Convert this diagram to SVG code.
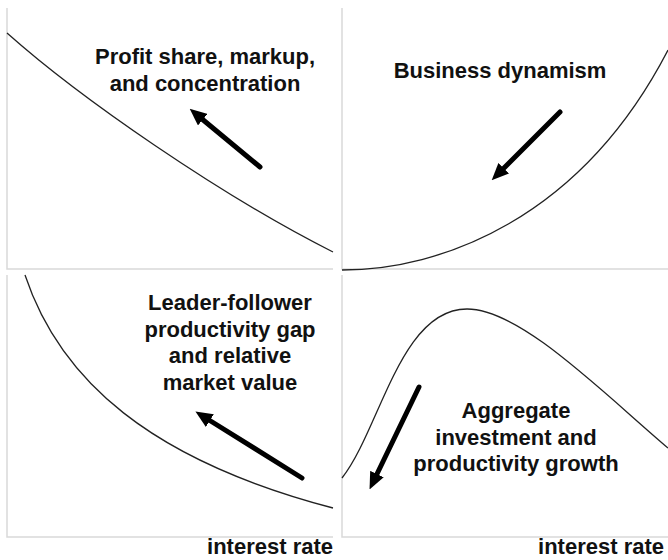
<svg xmlns="http://www.w3.org/2000/svg" width="668" height="560" viewBox="0 0 668 560">
<style>
.axis{stroke:#d9d9d9;stroke-width:1.5;fill:none}
.curve{stroke:#222;stroke-width:1.3;fill:none}
.arrow{stroke:#000;stroke-width:5;stroke-linecap:round;fill:none}
.lbl{font-family:"Liberation Sans",Arial,sans-serif;font-weight:bold;font-size:22px;fill:#111;text-anchor:middle}
.xl{font-family:"Liberation Sans",Arial,sans-serif;font-weight:bold;font-size:22px;fill:#111;text-anchor:end}
</style>
<defs>
<marker id="head" markerUnits="userSpaceOnUse" viewBox="0 0 17 15" refX="1" refY="7.5" markerWidth="17" markerHeight="15" orient="auto">
<path d="M0,0 L17,7.5 L0,15 z" fill="#000"/>
</marker>
</defs>
<rect width="668" height="560" fill="#fff"/>
<g id="panel-tl">
<path class="axis" d="M7,8 V269 H333"/>
<path class="curve" d="M7,33 C80,98 220,195 333,252"/>
<text class="lbl" x="205" y="64">Profit share, markup,</text>
<text class="lbl" x="205" y="91">and concentration</text>
</g>
<g id="panel-tr">
<path class="axis" d="M342,8 V269 H668"/>
<path class="curve" d="M342,270 C440,270 580,220 668,50"/>
<text class="lbl" x="500" y="78">Business dynamism</text>
</g>
<g id="panel-bl">
<path class="axis" d="M7,275 V537 H333"/>
<path class="curve" d="M25,275 C60,380 150,460 333,508"/>
<text class="lbl" x="230" y="310">Leader-follower</text>
<text class="lbl" x="230" y="336.5">productivity gap</text>
<text class="lbl" x="230" y="363">and relative</text>
<text class="lbl" x="230" y="389.5">market value</text>
<text class="xl" x="333" y="554">interest rate</text>
</g>
<g id="panel-br">
<path class="axis" d="M342,275 V537 H668"/>
<path class="curve" d="M342,478 C380,430 400,309 467,309 C520,309 600,390 668,448"/>
<text class="lbl" x="516" y="418">Aggregate</text>
<text class="lbl" x="516" y="444.5">investment and</text>
<text class="lbl" x="516" y="471">productivity growth</text>
<text class="xl" x="664" y="554">interest rate</text>
</g>
<g id="connectors">
<line class="arrow" x1="260" y1="167" x2="202" y2="119" marker-end="url(#head)"/>
<line class="arrow" x1="560" y1="112" x2="503" y2="169" marker-end="url(#head)"/>
<line class="arrow" x1="302" y1="478" x2="209" y2="420" marker-end="url(#head)"/>
<line class="arrow" x1="419" y1="387" x2="376.5" y2="475" marker-end="url(#head)"/>
</g>
</svg>
